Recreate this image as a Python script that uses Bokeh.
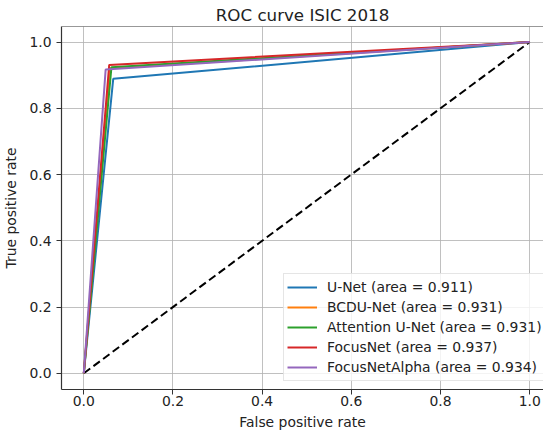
from bokeh.plotting import figure
from bokeh.models import Range1d, FixedTicker, Legend, LegendItem, Span
from bokeh.embed import file_html
from bokeh.resources import INLINE

# ---- data ----
models = ["U-Net", "BCDU-Net", "Attention U-Net", "FocusNet", "FocusNetAlpha"]
aucs = [0.911, 0.931, 0.931, 0.937, 0.934]
fpr_unet = [0.0, 0.066, 1.0]
tpr_unet = [0.0, 0.889, 1.0]
fpr_bcdu = [0.0, 0.059, 1.0]
tpr_bcdu = [0.0, 0.921, 1.0]
fpr_att = [0.0, 0.062, 1.0]
tpr_att = [0.0, 0.924, 1.0]
fpr_focus = [0.0, 0.057, 1.0]
tpr_focus = [0.0, 0.931, 1.0]
fpr_alpha = [0.0, 0.049, 1.0]
tpr_alpha = [0.0, 0.917, 1.0]
chance_x = [0.0, 1.0]
chance_y = [0.0, 1.0]
tick_values = [0.0, 0.2, 0.4, 0.6, 0.8, 1.0]
tick_labels = ["0.0", "0.2", "0.4", "0.6", "0.8", "1.0"]
colors = ["#1f77b4", "#ff7f0e", "#2ca02c", "#d62728", "#9467bd"]

FONT = "DejaVu Sans"
TXT = "#222222"
Y_END = 1.047

p = figure(width=543, height=436, output_backend="svg", toolbar_location=None,
           x_range=Range1d(-0.05, 1.031), y_range=Range1d(-0.049, Y_END),
           min_border_left=52, min_border_right=0, min_border_top=24,
           min_border_bottom=47, title="ROC curve ISIC 2018")
p.outline_line_color = None
p.background_fill_color = "white"
p.border_fill_color = "white"

p.title.text_font = FONT
p.title.text_font_size = "16.7px"
p.title.text_font_style = "normal"
p.title.text_color = TXT
p.title.align = "center"
p.title.offset = 4
p.title.standoff = 4

for ax in (p.xaxis[0], p.yaxis[0]):
    ax.ticker = FixedTicker(ticks=tick_values)
    ax.major_label_overrides = {v: l for v, l in zip(tick_values, tick_labels)}
    ax.major_label_text_font = FONT
    ax.major_label_text_font_size = "13.9px"
    ax.major_label_text_color = TXT
    ax.axis_label_text_font = FONT
    ax.axis_label_text_font_size = "13.9px"
    ax.axis_label_text_font_style = "normal"
    ax.axis_label_text_color = TXT
    ax.axis_line_color = "#333333"
    ax.axis_line_width = 1.2
    ax.major_tick_line_color = "#333333"
    ax.major_tick_out = 5
    ax.major_tick_in = 0
    ax.minor_tick_line_color = None
p.xaxis.major_label_standoff = 1
p.yaxis.major_label_standoff = 5
p.xaxis.axis_label = "False positive rate"
p.yaxis.axis_label = "True positive rate"
p.xaxis.axis_label_standoff = 5
p.yaxis.axis_label_standoff = 7

p.xgrid.ticker = FixedTicker(ticks=tick_values)
p.ygrid.ticker = FixedTicker(ticks=tick_values)
p.grid.grid_line_color = "#b0b0b0"
p.grid.grid_line_width = 1
p.grid.grid_line_alpha = 0.8

p.add_layout(Span(location=Y_END, dimension="width", line_color="#333333", line_width=1.2))

p.line(chance_x, chance_y, line_color="black", line_width=2, line_dash="8 4")

series = [(fpr_unet, tpr_unet), (fpr_bcdu, tpr_bcdu), (fpr_att, tpr_att),
          (fpr_focus, tpr_focus), (fpr_alpha, tpr_alpha)]
items = []
for (fx, ty), name, auc, c in zip(series, models, aucs, colors):
    r = p.line(fx, ty, line_color=c, line_width=2)
    items.append(LegendItem(label="%s (area = %.3f)" % (name, auc), renderers=[r]))

legend = Legend(items=items, location=(222, 8))
legend.label_text_font = FONT
legend.label_text_font_size = "13.9px"
legend.label_text_color = TXT
legend.glyph_width = 30
legend.glyph_height = 20
legend.label_height = 20
legend.label_standoff = 10
legend.spacing = 0
legend.padding = 3
legend.margin = 0
legend.border_line_color = "#cccccc"
legend.border_line_width = 1
legend.background_fill_color = "white"
legend.background_fill_alpha = 0.8
p.add_layout(legend)

open("out.html", "w").write(file_html(p, INLINE))
